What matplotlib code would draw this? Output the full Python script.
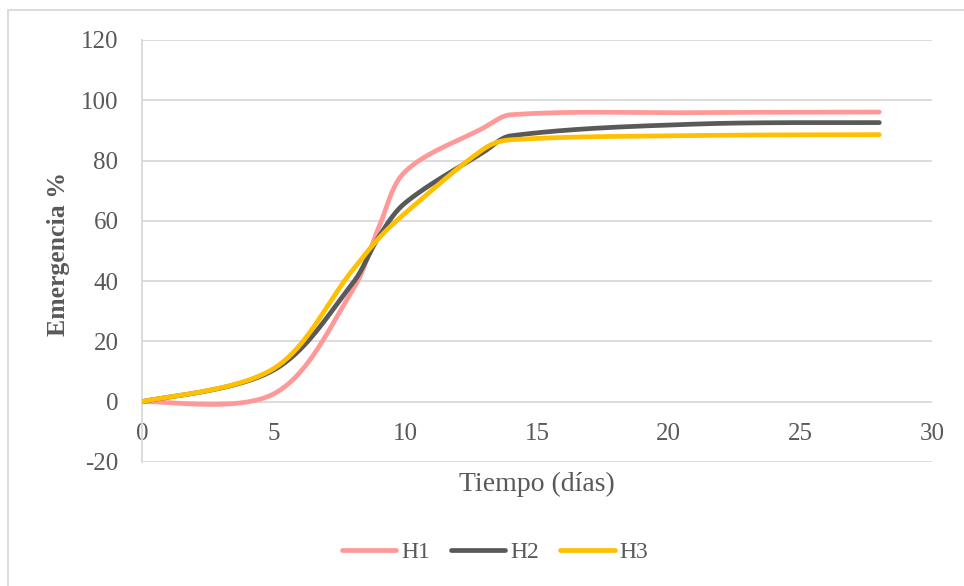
import numpy as np
import matplotlib
matplotlib.use("Agg")
from matplotlib import pyplot as plt
from matplotlib.patches import Rectangle

# data
dias = [0, 5, 8, 9, 10, 13, 14, 21, 28]
h1 = [0, 2.6, 37, 58, 76.4, 91, 95.2, 95.9, 96.1]
h2 = [0, 10.5, 39.3, 54.8, 66, 83, 88.2, 92.1, 92.6]
h3 = [0, 11, 43.7, 54.3, 62.6, 84, 86.9, 88.3, 88.6]
series = ["H1", "H2", "H3"]
colores = ["#FF9999", "#595959", "#FFC000"]

x_ticks = [0, 5, 10, 15, 20, 25, 30]
y_ticks = [-20, 0, 20, 40, 60, 80, 100, 120]

gris_texto = "#595959"
gris_linea = "#D9D9D9"

plt.rcParams['font.family'] = ['Liberation Serif', 'DejaVu Serif']
plt.rcParams['axes.unicode_minus'] = False


def suavizado_excel(ax, x, y, n=40):
    # bezier segments like Excel "smoothed line", tangents scaled by
    # segment length measured on screen
    pts = np.column_stack([x, y]).astype(float)
    pix = ax.transData.transform(pts)
    d = np.hypot(*np.diff(pix, axis=0).T)
    out = [pts[0]]
    t = np.linspace(0, 1, n)[1:, None]
    m = len(pts)
    for i in range(m - 1):
        p0 = pts[max(i - 1, 0)]
        p1 = pts[i]
        p2 = pts[i + 1]
        p3 = pts[min(i + 2, m - 1)]
        d01 = d[i - 1] if i > 0 else d[i]
        d12 = d[i]
        d23 = d[i + 1] if i + 1 < m - 1 else d[i]
        c1 = p1 + (p2 - p0) * d12 / (d01 + d12) / 3
        c2 = p2 - (p3 - p1) * d12 / (d12 + d23) / 3
        seg = (1 - t) ** 3 * p1 + 3 * (1 - t) ** 2 * t * c1 + 3 * (1 - t) * t ** 2 * c2 + t ** 3 * p2
        out.extend(seg)
    out = np.array(out)
    return out[:, 0], out[:, 1]


fig = plt.figure(figsize=(9.64, 5.86), dpi=100)
ax = fig.add_axes([142 / 964, 1 - 462 / 586, 790 / 964, 422 / 586])
ax.set_xlim(0, 30)
ax.set_ylim(-20, 120)

for nombre, valores, color in zip(series, [h1, h2, h3], colores):
    xs, ys = suavizado_excel(ax, dias, valores)
    ax.plot(xs, ys, color=color, lw=3.4, solid_capstyle='round', label=nombre, zorder=3)

ax.set_xticks(x_ticks)
ax.set_yticks(y_ticks)
ax.grid(axis='y', color=gris_linea, lw=1.3)
ax.set_axisbelow(True)

for lado in ['top', 'right']:
    ax.spines[lado].set_visible(False)
ax.spines['bottom'].set_position(('data', 0))
ax.spines['bottom'].set_visible(False)
ax.spines['left'].set_color(gris_linea)
ax.spines['left'].set_linewidth(1.3)

ax.tick_params(axis='both', length=0, labelsize=18, labelcolor=gris_texto)
ax.tick_params(axis='y', pad=17)
ax.tick_params(axis='x', pad=15)

fig.text(537 / 964, 1 - 484 / 586, "Tiempo (días)", ha='center', va='center',
         fontsize=20, color=gris_texto)
fig.text(58 / 964, 1 - 254 / 586, "Emergencia %", ha='center', va='center',
         rotation=90, fontsize=18.5, fontweight='bold', color=gris_texto)

fig.legend(loc='center', bbox_to_anchor=(495 / 964, 1 - 552 / 586), ncol=3,
           frameon=False, fontsize=17, handlelength=2.3, handletextpad=0.2,
           columnspacing=0.9, labelcolor=gris_texto)

# chart area border (cropped on the right and bottom in the reference)
fig.patches.append(Rectangle((8 / 964, -0.2), 1.5, 0.2 + 1 - 10 / 586, fill=False,
                             edgecolor=gris_linea, lw=1.3, transform=fig.transFigure))

fig.savefig("out.png", dpi=100)
